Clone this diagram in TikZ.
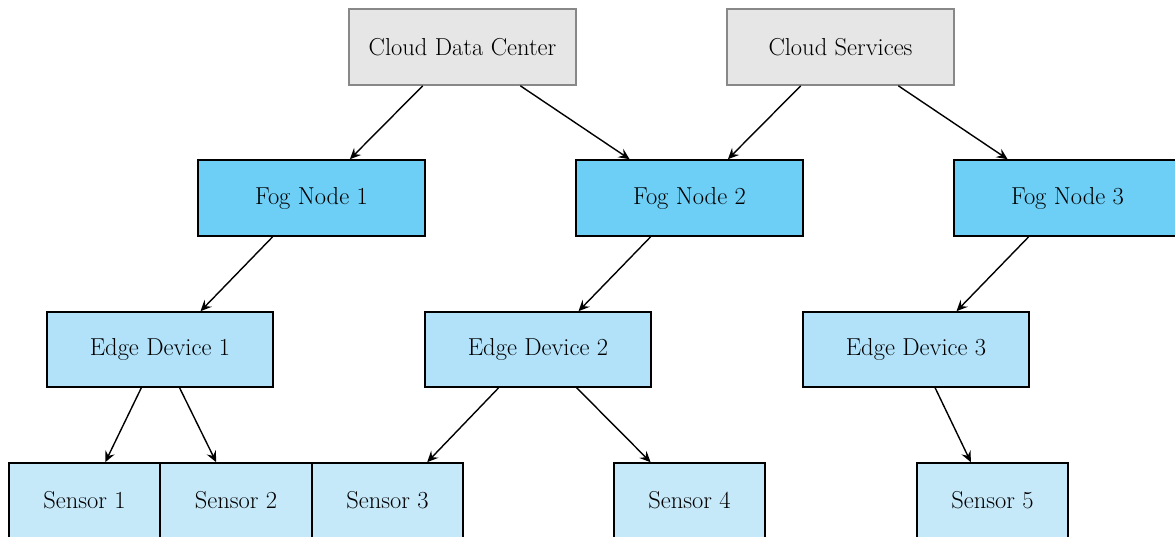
\documentclass[tikz,border=0pt]{standalone}
\usetikzlibrary{arrows.meta,calc}
\definecolor{cloudfill}{RGB}{230,230,230}
\definecolor{clouddraw}{RGB}{136,136,136}
\definecolor{fogfill}{RGB}{109,207,246}
\definecolor{edgefill}{RGB}{178,226,250}
\definecolor{sensorfill}{RGB}{198,233,250}
\tikzset{
  box/.style={rectangle, minimum width=227pt, minimum height=76pt, inner sep=0pt, line width=1.6pt, font=\fontsize{24.5}{29}\selectfont},
  cloudbox/.style={box, fill=cloudfill, draw=clouddraw},
  fogbox/.style={box, fill=fogfill, draw=black},
  edgebox/.style={box, minimum width=226pt, minimum height=75pt, fill=edgefill, draw=black},
  sensorbox/.style={box, minimum width=151pt, minimum height=75pt, fill=sensorfill, draw=black},
  conn/.style={line width=1.4pt, -{Stealth[length=11pt,width=10pt,inset=4pt]}}
}
\begin{document}
\begin{tikzpicture}[x=1pt,y=-1pt]
\useasboundingbox (0,0) rectangle (1175,537);
\begin{scope}
\clip (0,0) rectangle (1175,537);
\node[cloudbox] (cdc) at (462.5,47) {Cloud Data Center};
\node[cloudbox] (cs) at (840.5,47) {Cloud Services};
\node[fogbox] (f1) at (311.5,198) {Fog Node 1};
\node[fogbox] (f2) at (689.5,198) {Fog Node 2};
\node[fogbox] (f3) at (1067.5,198) {Fog Node 3};
\node[edgebox] (e1) at (160,349.5) {Edge Device 1};
\node[edgebox] (e2) at (538,349.5) {Edge Device 2};
\node[edgebox] (e3) at (916,349.5) {Edge Device 3};
\node[sensorbox] (s1) at (84.5,500.5) {Sensor 1};
\node[sensorbox] (s2) at (236,500.5) {Sensor 2};
\node[sensorbox] (s3) at (387.5,500.5) {Sensor 3};
\node[sensorbox] (s4) at (689.5,500.5) {Sensor 4};
\node[sensorbox] (s5) at (992.5,500.5) {Sensor 5};
\end{scope}
\draw[conn] ($(cdc.south west)!0.326!(cdc.south east)$) -- ($(f1.north west)!0.668!(f1.north east)$);
\draw[conn] ($(cdc.south west)!0.753!(cdc.south east)$) -- ($(f2.north west)!0.238!(f2.north east)$);
\draw[conn] ($(cs.south west)!0.326!(cs.south east)$) -- ($(f2.north west)!0.668!(f2.north east)$);
\draw[conn] ($(cs.south west)!0.753!(cs.south east)$) -- ($(f3.north west)!0.238!(f3.north east)$);
\draw[conn] ($(f1.south west)!0.33!(f1.south east)$) -- ($(e1.north west)!0.678!(e1.north east)$);
\draw[conn] ($(f2.south west)!0.33!(f2.south east)$) -- ($(e2.north west)!0.678!(e2.north east)$);
\draw[conn] ($(f3.south west)!0.33!(f3.south east)$) -- ($(e3.north west)!0.678!(e3.north east)$);
\draw[conn] ($(e1.south west)!0.418!(e1.south east)$) -- ($(s1.north west)!0.636!(s1.north east)$);
\draw[conn] ($(e1.south west)!0.586!(e1.south east)$) -- ($(s2.north west)!0.37!(s2.north east)$);
\draw[conn] ($(e2.south west)!0.327!(e2.south east)$) -- ($(s3.north west)!0.76!(s3.north east)$);
\draw[conn] ($(e2.south west)!0.67!(e2.south east)$) -- ($(s4.north west)!0.245!(s4.north east)$);
\draw[conn] ($(e3.south west)!0.584!(e3.south east)$) -- ($(s5.north west)!0.358!(s5.north east)$);
\end{tikzpicture}
\end{document}
